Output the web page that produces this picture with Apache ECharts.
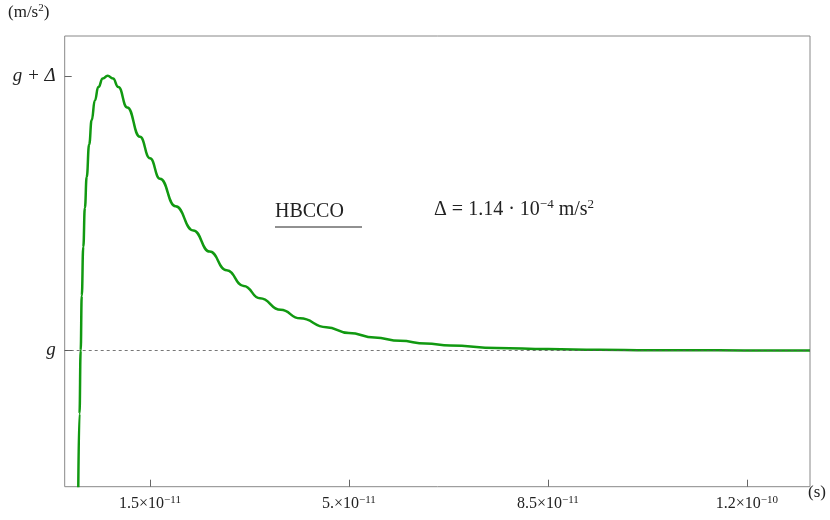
<!DOCTYPE html>
<html><head><meta charset="utf-8">
<script src="https://cdn.jsdelivr.net/npm/echarts@6/dist/echarts.min.js"></script>
<style>html,body{margin:0;padding:0;background:#fff}#c{width:830px;height:520px}</style>
</head><body><div id="c"></div>
<script>
// time in units of 1e-11 s; acceleration offset in units of Δ above g
const timeVals = [0.239,0.26,0.281,0.30,0.327,0.355,0.387,0.43,0.475,0.53,0.591,0.67,0.756,0.85,0.943,1.1,1.324,1.5,1.676,1.95,2.262,2.55,2.849,3.15,3.435,3.8,4.14,4.6,5.0,5.45,5.9,6.35,6.78,7.6,8.5,9.4,10.3,11.5,12.4,13.11];
const accelVals = [-0.498,-0.23,0,0.2,0.377,0.52,0.632,0.75,0.839,0.91,0.959,0.99,1.0,0.99,0.959,0.885,0.778,0.70,0.625,0.525,0.437,0.36,0.292,0.235,0.19,0.148,0.117,0.085,0.064,0.047,0.035,0.025,0.018,0.009,0.005,0.0025,0.0012,0.0005,0.0002,0.0];
const xTickVals = [1.5,5,8.5,12];
const xTickMant = ['1.5','5.','8.5','1.2'];
const xTickExp = ['−11','−11','−11','−10'];
const yTickVals = [0,1];
const yTickLabels = ['g','g + Δ'];

const F = 'Liberation Serif';
const chart = echarts.init(document.getElementById('c'));
chart.setOption({
  animation:false,
  grid:{left:64.7,right:20,top:36,bottom:33.3,show:true,borderColor:'#888',borderWidth:1},
  xAxis:{type:'value',min:0,max:13.11,
    axisLine:{show:false,onZero:false},splitLine:{show:false},
    axisTick:{show:true,inside:true,length:7,lineStyle:{color:'#666'},customValues:xTickVals},
    axisLabel:{customValues:xTickVals,margin:8,
      formatter:(v)=>{const i=xTickVals.indexOf(v);return '{m|'+xTickMant[i]+'×10}{e|'+xTickExp[i]+'}';},
      rich:{m:{fontFamily:F,fontSize:16,color:'#222'},e:{fontFamily:F,fontSize:11,color:'#222',verticalAlign:'top',padding:[0,0,8,0]}}}},
  yAxis:{type:'value',min:-0.496,max:1.145,
    axisLine:{show:false,onZero:false},splitLine:{show:false},
    axisTick:{show:true,inside:true,length:7,lineStyle:{color:'#666'},customValues:yTickVals},
    axisLabel:{customValues:yTickVals,margin:9,fontFamily:F,fontSize:19,fontStyle:'italic',color:'#222',
      formatter:(v)=>yTickLabels[yTickVals.indexOf(v)]}},
  graphic:[
    {type:'text',left:8,top:3,style:{text:'(m/s{s|2})',fontFamily:F,fontSize:17,fill:'#222',rich:{s:{fontFamily:F,fontSize:11,verticalAlign:'top',padding:[0,0,8,0]}}}},
    {type:'text',left:808,top:484,style:{text:'(s)',fontFamily:F,fontSize:17,fill:'#222'}},
    {type:'text',left:275,top:202,style:{text:'HBCCO',fontFamily:F,fontSize:20,fill:'#222'}},
    {type:'line',shape:{x1:275,y1:227,x2:362,y2:227},style:{stroke:'#222',lineWidth:1}},
    {type:'text',left:434,top:198,style:{text:'Δ = 1.14 · 10{s|−4} m/s{s|2}',fontFamily:F,fontSize:20,fill:'#222',
      rich:{s:{fontFamily:F,fontSize:13,fill:'#222',verticalAlign:'top',padding:[0,0,10,0]}}}}
  ],
  series:[{type:'line',data:timeVals.map((t,i)=>[t,accelVals[i]]),smooth:0.5,smoothMonotone:'x',showSymbol:false,
    lineStyle:{color:'#119911',width:2.5},
    markLine:{silent:true,symbol:'none',label:{show:false},lineStyle:{color:'#555',type:[3,3],width:0.8},data:[{yAxis:0}]}}]
});
</script></body></html>
